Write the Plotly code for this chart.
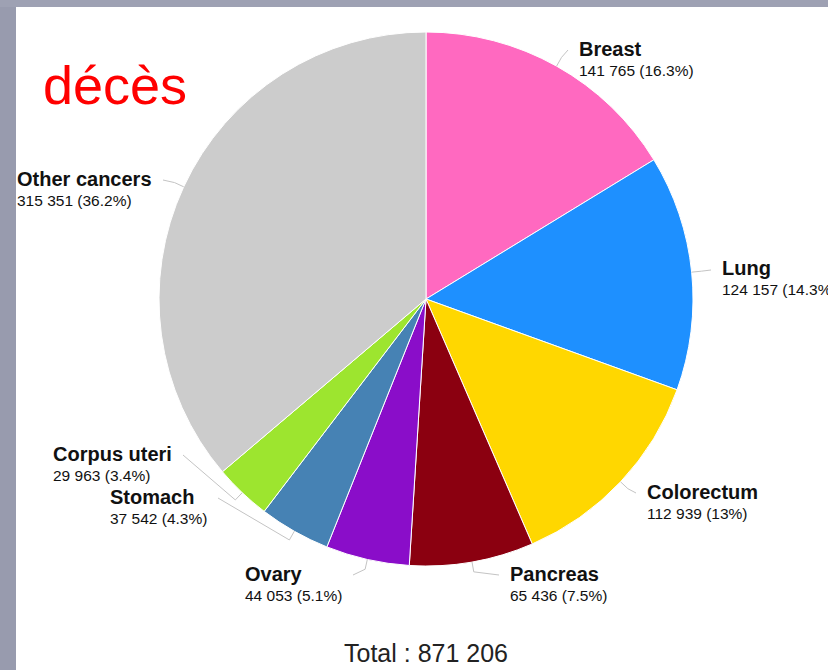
import plotly.graph_objects as go
import math

# Deaths by cancer site (slices clockwise from 12 o'clock)
cancers = ["Breast", "Lung", "Colorectum", "Pancreas", "Ovary", "Stomach", "Corpus uteri", "Other cancers"]
deaths = [141765, 124157, 112939, 65436, 44053, 37542, 29963, 315351]
colours = ["#ff69c0", "#1e90ff", "#ffd700", "#8b0010", "#8a0dc9", "#4682b4", "#9de52f", "#cccccc"]

W, H = 828, 670
CX, CY, R = 426, 299, 267  # pie centre / radius in pixels

# where each connector ends (pixels), labels sit just beside it
label_ends = {
    "Breast": (568, 50),
    "Lung": (711, 270),
    "Colorectum": (636, 493),
    "Pancreas": (499, 575),
    "Ovary": (353, 575),
    "Stomach": (218, 498),
    "Corpus uteri": (183, 455),
    "Other cancers": (163, 180),
}


def px(x):
    return x / W


def py(y):
    return 1 - y / H


def fmt(n):
    return f"{n:,}".replace(",", " ")


total = sum(deaths)

fig = go.Figure()

fig.add_trace(go.Pie(
    labels=cancers,
    values=deaths,
    sort=False,
    direction="clockwise",
    rotation=0,
    marker=dict(colors=colours, line=dict(color="white", width=1)),
    textinfo="none",
    hoverinfo="label+value+percent",
    domain=dict(x=[px(CX - R), px(CX + R)], y=[py(CY + R), py(CY - R)]),
    showlegend=False,
))

shapes = [
    # window frame of the screenshot
    dict(type="rect", xref="paper", yref="paper", x0=0, x1=px(16), y0=0, y1=1,
         fillcolor="#989bae", line=dict(width=0), layer="above"),
    dict(type="rect", xref="paper", yref="paper", x0=0, x1=1, y0=py(7), y1=1,
         fillcolor="#9ea1b3", line=dict(width=0), layer="above"),
]
annotations = []

cum = 0
for name, val in zip(cancers, deaths):
    mid = (cum + val / 2) / total * 2 * math.pi
    cum += val
    sx, sy = math.sin(mid), -math.cos(mid)
    x0, y0 = CX + R * sx, CY + R * sy
    x1, y1 = CX + (R + 10) * sx, CY + (R + 10) * sy
    x2, y2 = label_ends[name]
    shapes.append(dict(
        type="path", xref="paper", yref="paper",
        path=f"M {px(x0)},{py(y0)} L {px(x1)},{py(y1)} L {px(x2)},{py(y2)}",
        line=dict(color="#c4c4c4", width=1),
    ))
    pct = f"{val / total * 100:.1f}".rstrip("0").rstrip(".")
    right = sx > 0
    annotations.append(dict(
        xref="paper", yref="paper",
        x=px(x2 + 9 if right else x2 - 9), y=py(y2 + 8),
        xanchor="left" if right else "right", yanchor="middle",
        align="left", showarrow=False,
        text=f"<b><span style='font-size:20px'>{name}</span></b><br>{fmt(val)} ({pct}%)",
        font=dict(family="Liberation Sans, Arial, sans-serif", size=15.5, color="#111111"),
    ))

annotations.append(dict(
    xref="paper", yref="paper", x=px(41), y=py(85), xanchor="left", yanchor="middle",
    showarrow=False, text="décès",
    font=dict(family="Liberation Sans, Arial, sans-serif", size=54, color="#ff0000"),
))
annotations.append(dict(
    xref="paper", yref="paper", x=px(CX), y=py(653), xanchor="center", yanchor="middle",
    showarrow=False, text=f"Total : {fmt(total)}",
    font=dict(family="Liberation Sans, Arial, sans-serif", size=25, color="#222222"),
))

fig.update_layout(
    width=W, height=H,
    margin=dict(l=0, r=0, t=0, b=0),
    paper_bgcolor="white",
    plot_bgcolor="white",
    shapes=shapes,
    annotations=annotations,
)

# page margin off so the figure fills the window exactly
fig.write_html(
    "out.html",
    config={"displayModeBar": False},
    post_script="document.body.style.margin='0';document.body.style.overflow='hidden';",
)
